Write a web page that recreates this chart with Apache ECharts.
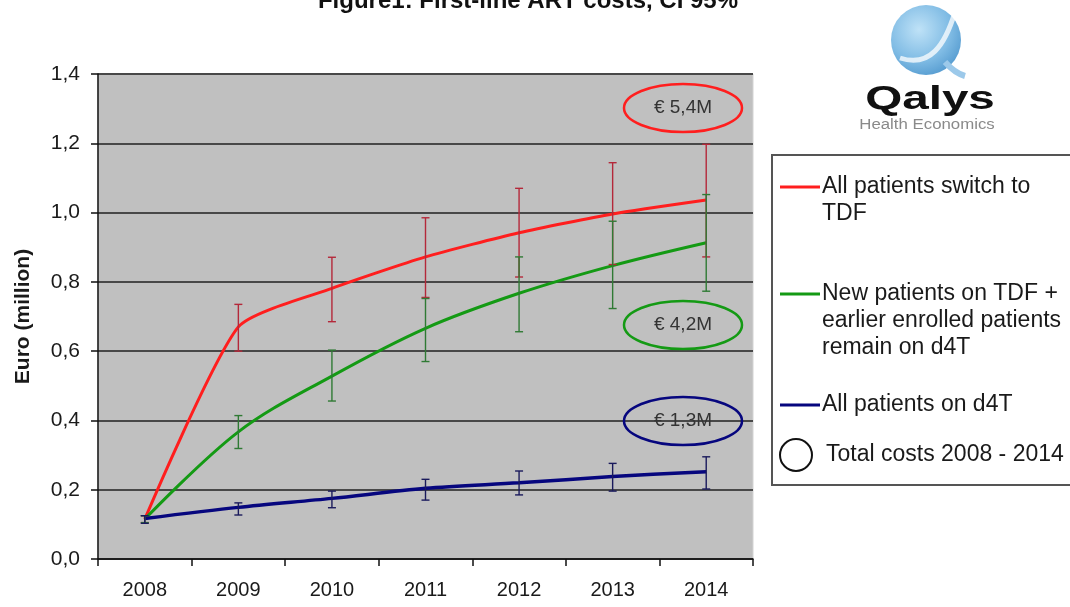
<!DOCTYPE html>
<html>
<head>
<meta charset="utf-8">
<script src="https://cdn.jsdelivr.net/npm/echarts@6/dist/echarts.min.js"></script>
<style>
html,body{margin:0;padding:0;background:#fff;}
#chart{width:1070px;height:607px;}
</style>
</head>
<body>
<div id="chart"></div>
<script>
// ---- data ----
const years = ['2008', '2009', '2010', '2011', '2012', '2013', '2014'];
const yTickLabels = ['0,0', '0,2', '0,4', '0,6', '0,8', '1,0', '1,2', '1,4'];
const seriesNames = ['All patients switch to TDF', 'New patients on TDF + earlier enrolled patients remain on d4T', 'All patients on d4T'];
const redVals  = [0.115, 0.670, 0.781, 0.872, 0.942, 0.996, 1.036];
const redLow   = [0.105, 0.600, 0.685, 0.755, 0.814, 0.850, 0.872];
const redHigh  = [0.125, 0.735, 0.871, 0.985, 1.070, 1.144, 1.197];
const greenVals = [0.115, 0.367, 0.528, 0.666, 0.767, 0.847, 0.913];
const greenLow  = [0.105, 0.319, 0.456, 0.570, 0.656, 0.723, 0.773];
const greenHigh = [0.125, 0.414, 0.603, 0.752, 0.872, 0.975, 1.052];
const blueVals = [0.117, 0.149, 0.175, 0.204, 0.220, 0.238, 0.252];
const blueLow  = [0.103, 0.127, 0.148, 0.170, 0.185, 0.196, 0.202];
const blueHigh = [0.125, 0.162, 0.196, 0.230, 0.254, 0.276, 0.295];
const totals = ['€ 5,4M', '€ 4,2M', '€ 1,3M'];
const legendLines = [['All patients switch to', 'TDF'], ['New patients on TDF +', 'earlier enrolled patients', 'remain on d4T'], ['All patients on d4T']];
const legendCircleText = 'Total costs 2008 - 2014';
const titleText = 'Figure1: First-line ART costs, CI 95%';
const yAxisName = 'Euro (million)';

// ---- styles ----
const lineColors = ['#ff1e1e', '#149a14', '#06067e'];
const barColors = ['#b4283a', '#2f7a34', '#1a1a5c'];
const FONT = 'Liberation Sans, Arial, sans-serif';

function errData(low, high) {
  return years.map((y, i) => [i, low[i], high[i]]);
}
function errSeries(low, high, color) {
  return {
    type: 'custom',
    z: 5,
    silent: true,
    data: errData(low, high),
    renderItem: function (params, api) {
      const i = api.value(0);
      const lo = api.coord([i, api.value(1)]);
      const hi = api.coord([i, api.value(2)]);
      const w = 4;
      const st = { stroke: color, lineWidth: 1.4 };
      return {
        type: 'group',
        children: [
          { type: 'line', shape: { x1: lo[0], y1: lo[1], x2: hi[0], y2: hi[1] }, style: st },
          { type: 'line', shape: { x1: lo[0] - w, y1: lo[1], x2: lo[0] + w, y2: lo[1] }, style: st },
          { type: 'line', shape: { x1: hi[0] - w, y1: hi[1], x2: hi[0] + w, y2: hi[1] }, style: st }
        ]
      };
    }
  };
}

// legend graphic
const legendX = 772, legendY = 155;
const itemY = [187, 294, 405];
const legendEls = [
  { type: 'rect', shape: { x: legendX, y: legendY, width: 320, height: 330 }, style: { fill: '#fff', stroke: '#555', lineWidth: 2 } }
];
legendLines.forEach((lines, k) => {
  legendEls.push({ type: 'line', shape: { x1: 780, y1: itemY[k], x2: 820, y2: itemY[k] }, style: { stroke: lineColors[k], lineWidth: 3 } });
  lines.forEach((t, j) => {
    legendEls.push({ type: 'text', x: 822, y: itemY[k] + j * 27, style: { text: t, font: '23px ' + FONT, fill: '#1a1a1a', verticalAlign: 'middle', align: 'left' } });
  });
});
legendEls.push({ type: 'circle', shape: { cx: 796, cy: 455, r: 16 }, style: { fill: 'none', stroke: '#111', lineWidth: 2 } });
legendEls.push({ type: 'text', x: 826, y: 455, style: { text: legendCircleText, font: '23px ' + FONT, fill: '#1a1a1a', verticalAlign: 'middle', align: 'left' } });

// annotation ellipses
const annoY = [108, 325, 421];
const annoEls = [];
totals.forEach((t, k) => {
  annoEls.push({ type: 'ellipse', z: 10, shape: { cx: 683, cy: annoY[k], rx: 59, ry: 24 }, style: { fill: 'none', stroke: lineColors[k], lineWidth: 2.5 } });
  annoEls.push({ type: 'text', z: 11, x: 683, y: annoY[k], style: { text: t, font: '19px ' + FONT, fill: '#333', align: 'center', verticalAlign: 'middle' } });
});

// logo
const logoEls = [
  { type: 'circle', shape: { cx: 926, cy: 40, r: 35 }, style: { fill: { type: 'radial', x: 0.4, y: 0.35, r: 0.75, colorStops: [{ offset: 0, color: '#bfe2f7' }, { offset: 0.6, color: '#7fbbe4' }, { offset: 1, color: '#4d95cc' }] } } },
  { type: 'bezierCurve', shape: { x1: 900, y1: 58, cpx1: 930, cpy1: 68, x2: 955, y2: 12, cpx2: 945, cpy2: 45 }, style: { stroke: 'rgba(255,255,255,0.75)', lineWidth: 5, fill: 'none' } },
  { type: 'bezierCurve', shape: { x1: 945, y1: 62, cpx1: 952, cpy1: 70, x2: 965, y2: 76, cpx2: 958, cpy2: 74 }, style: { stroke: '#9cc9ea', lineWidth: 6, fill: 'none' } },
  { type: 'text', x: 930, y: 100, scaleX: 1.4, style: { text: 'Qalys', font: 'bold 34px ' + FONT, fill: '#111', align: 'center', verticalAlign: 'middle' } },
  { type: 'text', x: 927, y: 125, scaleX: 1.2, style: { text: 'Health Economics', font: '14px ' + FONT, fill: '#8a8a8a', align: 'center', verticalAlign: 'middle' } }
];

const chart = echarts.init(document.getElementById('chart'), null, { renderer: 'canvas' });
const option = {
  backgroundColor: '#fff',
  animation: false,
  textStyle: { fontFamily: FONT },
  grid: { left: 98, right: 317, top: 74, bottom: 48, containLabel: false, outerBoundsMode: 'none', show: true, backgroundColor: '#c0c0c0', borderColor: '#d4d4d4', borderWidth: 1 },
  xAxis: {
    type: 'category',
    data: years,
    boundaryGap: true,
    axisLine: { lineStyle: { color: '#111', width: 1.5 } },
    axisTick: { show: true, interval: 0, length: 7, lineStyle: { color: '#111', width: 1.5 } },
    axisLabel: { fontSize: 20, color: '#1a1a1a', margin: 21, fontFamily: FONT },
    splitLine: { show: false }
  },
  yAxis: {
    type: 'value',
    min: 0, max: 1.4, interval: 0.2,
    name: yAxisName,
    nameLocation: 'middle',
    nameGap: 64,
    nameRotate: 90,
    nameTextStyle: { fontSize: 21, fontWeight: 'bold', color: '#1a1a1a', fontFamily: FONT },
    axisLine: { show: true, lineStyle: { color: '#111', width: 1.5 } },
    axisTick: { show: true, length: 7, lineStyle: { color: '#111', width: 1.5 } },
    axisLabel: { fontSize: 21, color: '#1a1a1a', margin: 18, fontFamily: FONT, formatter: (v) => yTickLabels[Math.round(v / 0.2)] },
    splitLine: { show: true, lineStyle: { color: '#484848', width: 2 } }
  },
  series: [
    { name: seriesNames[0], type: 'line', data: redVals, smooth: 0.2, symbol: 'none', z: 3, lineStyle: { color: lineColors[0], width: 3 } },
    { name: seriesNames[1], type: 'line', data: greenVals, smooth: 0.35, symbol: 'none', z: 3, lineStyle: { color: lineColors[1], width: 3 } },
    { name: seriesNames[2], type: 'line', data: blueVals, smooth: 0.3, symbol: 'none', z: 3, lineStyle: { color: lineColors[2], width: 3.5 } },
    errSeries(redLow, redHigh, barColors[0]),
    errSeries(greenLow, greenHigh, barColors[1]),
    errSeries(blueLow, blueHigh, barColors[2])
  ],
  graphic: [
    { type: 'text', x: 528, y: 1, style: { text: titleText, font: 'bold 24px ' + FONT, fill: '#111', align: 'center', verticalAlign: 'middle' } }
  ].concat(legendEls, annoEls, logoEls)
};
chart.setOption(option);
</script>
</body>
</html>
